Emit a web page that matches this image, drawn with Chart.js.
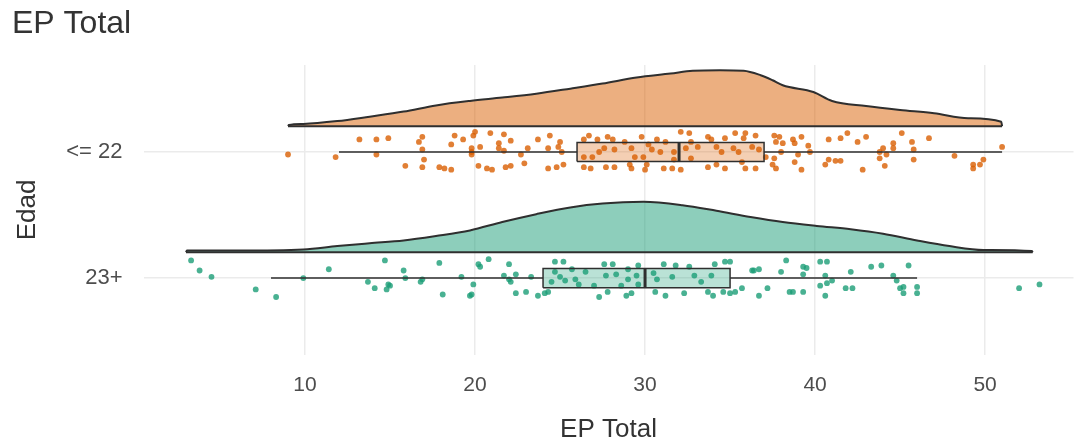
<!DOCTYPE html>
<html>
<head>
<meta charset="utf-8">
<script src="https://cdn.jsdelivr.net/npm/chart.js@4/dist/chart.umd.min.js"></script>
<style>
  body { margin: 0; background: #ffffff; }
  #wrap { width: 1078px; height: 445px; }
</style>
</head>
<body>
<div id="wrap"><canvas id="chart-raincloud"></canvas></div>
<script>
// Categorias del eje y (posicion 1 = abajo)
const categorias = ['23+', '<= 22'];
const ticksX = [10, 20, 30, 40, 50];

// Densidad (altura relativa) - grupo <= 22
const densX22 = [9, 9.05, 9.9, 11.9, 13.8, 15.8, 17.7, 19.7, 21.6, 23.6, 25.6, 27.5, 29.5, 31.5, 32.8, 34.4, 35.8, 36.8, 37.5, 38.1, 39.9, 41, 43, 45, 47, 49, 50.95, 51];
const densY22 = [0, 0.02, 0.04, 0.09, 0.17, 0.26, 0.37, 0.45, 0.51, 0.58, 0.67, 0.76, 0.87, 0.94, 0.99, 1.0, 0.99, 0.91, 0.82, 0.73, 0.61, 0.45, 0.36, 0.29, 0.23, 0.14, 0.08, 0];

// Densidad (altura relativa) - grupo 23+
const densX23 = [3.0, 3.05, 6.0, 9.9, 11.9, 13.8, 15.8, 17.7, 19.7, 21.6, 23.6, 25.6, 27.5, 29.9, 32.2, 34.2, 36.2, 38.1, 40.1, 42.1, 44, 46, 47.9, 49.9, 52.75, 52.8];
const densY23 = [0, 0.03, 0.03, 0.05, 0.11, 0.16, 0.21, 0.29, 0.39, 0.54, 0.68, 0.80, 0.87, 0.90, 0.84, 0.74, 0.63, 0.54, 0.47, 0.41, 0.33, 0.21, 0.11, 0.04, 0.02, 0];

// Boxplot: [min bigote, Q1, mediana, Q3, max bigote]
const caja22 = [12, 26, 32, 37, 51];
const caja23 = [8, 24, 30, 35, 46];

// Puntos (valor y desplazamiento vertical del jitter)
const puntosX22 = [9.0, 11.8, 13.2, 14.2, 14.9, 14.2, 15.9, 16.7, 16.9, 16.9, 17.0, 16.9, 17.9, 18.2, 18.6, 18.6, 18.8, 19.3, 19.9, 20.0, 19.8, 19.8, 19.8, 20.3, 20.2, 20.7, 21.0, 20.9, 21.7, 21.4, 22.1, 21.4, 21.7, 21.8, 22.1, 22.7, 22.9, 23.1, 23.7, 24.4, 24.3, 24.9, 25.0, 25.1, 25.2, 24.8, 24.3, 26.4, 26.7, 27.2, 27.8, 28.1, 27.6, 28.2, 26.4, 26.9, 27.3, 26.4, 26.8, 27.7, 28.2, 28.8, 29.2, 29.4, 29.1, 29.2, 29.8, 30.2, 30.4, 29.9, 30.1, 30.0, 30.7, 30.9, 31.2, 31.1, 31.6, 31.7, 31.7, 32.1, 32.6, 32.1, 32.4, 32.7, 32.7, 33.1, 33.7, 33.9, 34.2, 34.5, 33.7, 34.2, 34.7, 34.7, 35.3, 35.8, 35.9, 36.5, 35.2, 35.5, 36.3, 36.7, 35.7, 35.9, 36.5, 37.1, 37.5, 37.6, 37.9, 38.1, 37.7, 38.7, 39.2, 38.8, 39.6, 39.7, 37.6, 38.0, 39.0, 38.8, 37.7, 39.2, 40.8, 41.5, 41.9, 42.5, 43.0, 40.8, 41.2, 41.5, 40.6, 42.8, 44.0, 43.8, 44.2, 43.8, 44.1, 44.6, 44.6, 45.1, 45.7, 45.8, 45.8, 46.7, 48.2, 49.3, 49.3, 49.7, 49.9, 51.0];
const jitter22 = [-0.02, -0.04, 0.10, 0.10, 0.11, -0.02, -0.11, 0.08, 0.12, 0.02, -0.06, -0.12, -0.12, -0.13, -0.14, 0.06, 0.13, 0.10, 0.13, 0.16, 0.03, -0.02, 0.00, 0.04, -0.11, -0.13, -0.14, 0.15, 0.14, 0.07, 0.09, 0.03, 0.01, -0.12, -0.11, -0.02, -0.09, 0.03, 0.10, 0.13, 0.03, 0.04, 0.08, 0.00, -0.10, -0.12, -0.13, 0.10, 0.13, 0.10, 0.12, 0.10, 0.03, 0.02, -0.04, -0.04, 0.00, -0.12, -0.13, -0.12, -0.12, 0.08, 0.03, -0.04, -0.10, -0.13, 0.12, 0.06, 0.02, -0.04, -0.10, -0.14, 0.10, 0.00, 0.08, -0.13, -0.13, 0.00, -0.06, 0.16, 0.15, -0.14, 0.03, -0.05, 0.08, 0.04, 0.12, 0.10, 0.04, 0.00, -0.12, -0.10, -0.13, 0.11, 0.15, 0.11, 0.15, 0.13, 0.03, 0.00, 0.04, 0.02, -0.08, -0.13, -0.13, -0.04, -0.10, 0.13, 0.12, 0.07, 0.08, 0.10, 0.12, 0.07, 0.05, 0.00, -0.05, 0.00, -0.02, -0.08, -0.13, -0.14, 0.10, 0.11, 0.15, 0.08, 0.12, -0.06, -0.07, -0.07, -0.10, -0.14, 0.03, 0.00, -0.02, -0.05, -0.11, 0.07, 0.03, 0.15, 0.08, 0.02, -0.06, 0.11, -0.03, -0.10, -0.13, -0.10, -0.06, 0.04];

const puntosX23 = [3.3, 3.8, 4.5, 7.1, 8.3, 9.9, 11.4, 13.7, 14.1, 14.7, 14.9, 15.0, 14.8, 15.8, 15.9, 16.8, 16.9, 17.9, 18.1, 19.2, 19.7, 19.9, 19.8, 20.2, 20.3, 20.8, 22.0, 21.7, 22.0, 22.4, 22.1, 22.4, 23.0, 23.3, 23.7, 24.1, 24.3, 24.7, 25.2, 24.7, 25.0, 25.3, 25.7, 24.5, 25.9, 26.1, 26.5, 27.0, 27.3, 27.6, 27.7, 27.8, 28.1, 28.3, 28.6, 29.0, 29.0, 28.9, 29.2, 29.6, 29.5, 29.6, 30.5, 30.7, 30.6, 31.1, 31.2, 31.8, 31.6, 32.3, 32.6, 32.9, 33.3, 33.9, 34.1, 34.7, 35.0, 33.7, 34.0, 34.6, 35.0, 35.3, 35.7, 36.3, 36.4, 36.7, 36.7, 37.2, 38.0, 38.3, 38.5, 38.7, 39.3, 39.3, 39.5, 39.3, 40.3, 40.7, 40.6, 40.7, 41.0, 40.3, 40.6, 41.8, 42.2, 42.1, 43.3, 43.9, 44.6, 44.8, 45.0, 45.2, 45.2, 45.5, 46.0, 46.0, 52.0, 53.2];
const jitter23 = [0.14, 0.06, 0.01, -0.09, -0.15, 0.00, 0.07, -0.03, -0.08, 0.14, -0.05, -0.06, -0.09, 0.06, 0.00, -0.03, -0.01, 0.12, -0.13, 0.01, -0.14, -0.05, -0.13, 0.11, 0.09, 0.15, 0.11, 0.02, -0.01, 0.03, -0.03, -0.12, -0.11, 0.01, -0.14, -0.12, -0.11, 0.13, 0.13, 0.05, 0.01, -0.02, 0.07, -0.03, -0.01, -0.05, 0.05, -0.06, -0.15, 0.11, 0.02, -0.11, 0.11, 0.03, -0.06, 0.07, -0.01, -0.14, -0.12, 0.10, 0.02, -0.05, 0.04, -0.01, -0.11, 0.11, -0.14, 0.10, 0.01, -0.12, 0.09, 0.02, -0.03, 0.02, 0.11, 0.13, 0.13, -0.11, -0.14, -0.11, -0.12, -0.11, -0.08, 0.06, 0.06, 0.07, -0.14, -0.08, 0.05, 0.14, -0.11, -0.11, -0.11, 0.09, 0.08, 0.03, 0.13, 0.13, 0.02, -0.04, -0.02, -0.06, -0.14, -0.08, -0.08, 0.05, 0.09, 0.10, 0.02, -0.02, -0.08, -0.07, -0.12, 0.10, -0.07, -0.12, -0.08, -0.05];

// Colores (paleta Dark2)
const naranja = [217, 95, 2];
const verde = [27, 158, 119];
const contorno = '#2f2f2f';

function rgba(c, a) {
    return 'rgba(' + c[0] + ', ' + c[1] + ', ' + c[2] + ', ' + a + ')';
}

// Geometria del raincloud
const offsetNube = 0.205;
const escalaNube = 0.444;
const medioAlto = 0.076;

function nube(xs, hs, pos, color) {
    const base = pos + offsetNube;
    return {
        data: xs.map((x, i) => ({ x: x, y: base + hs[i] * escalaNube })),
        showLine: true,
        borderColor: contorno,
        borderWidth: 2,
        backgroundColor: rgba(color, 0.5),
        fill: { value: base },
        pointRadius: 0,
        cubicInterpolationMode: 'monotone',
        order: 5
    };
}

function baseNube(xs, pos) {
    const base = pos + offsetNube;
    return {
        data: [{ x: xs[0], y: base }, { x: xs[xs.length - 1], y: base }],
        showLine: true,
        borderColor: contorno,
        borderWidth: 2,
        pointRadius: 0,
        fill: false,
        order: 4
    };
}

function puntos(xs, jit, pos, color) {
    return {
        data: xs.map((x, i) => ({ x: x, y: pos + jit[i] })),
        pointRadius: 2.9,
        pointBorderWidth: 0,
        pointBackgroundColor: rgba(color, 0.8),
        backgroundColor: rgba(color, 0.8),
        order: 3
    };
}

function bigotes(c, pos) {
    return {
        data: [{ x: c[0], y: pos }, { x: c[1], y: pos }, { x: c[1], y: null }, { x: c[3], y: pos }, { x: c[4], y: pos }],
        showLine: true,
        spanGaps: false,
        borderColor: contorno,
        borderWidth: 1.5,
        pointRadius: 0,
        fill: false,
        order: 2
    };
}

function caja(c, pos, color) {
    return {
        data: [
            { x: c[1], y: pos - medioAlto }, { x: c[3], y: pos - medioAlto },
            { x: c[3], y: pos + medioAlto }, { x: c[1], y: pos + medioAlto },
            { x: c[1], y: pos - medioAlto }
        ],
        showLine: true,
        borderColor: contorno,
        borderWidth: 1.5,
        backgroundColor: rgba(color, 0.3),
        fill: 'shape',
        pointRadius: 0,
        order: 1
    };
}

function mediana(c, pos) {
    return {
        data: [{ x: c[2], y: pos - medioAlto }, { x: c[2], y: pos + medioAlto }],
        showLine: true,
        borderColor: contorno,
        borderWidth: 3,
        pointRadius: 0,
        fill: false,
        order: 0
    };
}

const datasets = [
    nube(densX22, densY22, 2, naranja),
    baseNube(densX22, 2),
    nube(densX23, densY23, 1, verde),
    baseNube(densX23, 1),
    puntos(puntosX22, jitter22, 2, naranja),
    puntos(puntosX23, jitter23, 1, verde),
    bigotes(caja22, 2),
    bigotes(caja23, 1),
    caja(caja22, 2, naranja),
    caja(caja23, 1, verde),
    mediana(caja22, 2),
    mediana(caja23, 1)
];

const fuente = "'Liberation Sans', Arial, sans-serif";

new Chart(document.getElementById('chart-raincloud'), {
    type: 'scatter',
    data: { datasets: datasets },
    options: {
        responsive: true,
        maintainAspectRatio: false,
        animation: false,
        layout: {
            padding: { left: 12, right: 4.5, top: 0, bottom: 0 }
        },
        plugins: {
            legend: { display: false },
            tooltip: { enabled: false },
            title: {
                display: true,
                text: 'EP Total',
                align: 'start',
                color: '#333333',
                font: { family: fuente, size: 32, weight: 'normal' },
                padding: { top: 5, bottom: 21.6 }
            }
        },
        scales: {
            x: {
                type: 'linear',
                min: 0.5,
                max: 55.2,
                afterBuildTicks: function(scale) {
                    scale.ticks = ticksX.map(v => ({ value: v }));
                },
                afterFit: function(scale) {
                    scale.height = 90;
                },
                grid: {
                    color: '#EBEBEB',
                    lineWidth: 1.5,
                    drawTicks: false
                },
                border: { display: false },
                ticks: {
                    color: '#4D4D4D',
                    padding: 18,
                    maxRotation: 0,
                    font: { family: fuente, size: 21 }
                },
                title: {
                    display: true,
                    text: 'EP Total',
                    color: '#333333',
                    font: { family: fuente, size: 26 },
                    padding: { top: 0, bottom: 0 }
                }
            },
            y: {
                type: 'linear',
                min: 0.39,
                max: 2.69,
                afterBuildTicks: function(scale) {
                    scale.ticks = categorias.map((c, i) => ({ value: i + 1 }));
                },
                afterFit: function(scale) {
                    scale.width = 131.5;
                },
                grid: {
                    color: '#EBEBEB',
                    lineWidth: 1.5,
                    drawTicks: false
                },
                border: { display: false },
                ticks: {
                    color: '#4D4D4D',
                    padding: 21,
                    font: { family: fuente, size: 22 },
                    callback: function(value) {
                        return categorias[value - 1];
                    }
                },
                title: {
                    display: true,
                    text: 'Edad',
                    color: '#333333',
                    font: { family: fuente, size: 26 },
                    padding: { top: 0, bottom: 0 }
                }
            }
        }
    }
});
</script>
</body>
</html>
